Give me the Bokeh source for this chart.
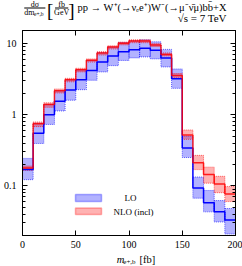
from bokeh.plotting import figure
from bokeh.layouts import column
from bokeh.models import (FixedTicker, CustomJSTickFormatter, LinearAxis, LogAxis,
                          Label, BoxAnnotation)
from bokeh.embed import file_html
from bokeh.resources import INLINE

# ---- data (bins of 10 GeV from 0 to 200) ----
edges = [0, 10, 20, 30, 40, 50, 60, 70, 80, 90, 100, 110, 120, 130, 140, 150, 160, 170, 180, 190, 200]
lo = [0.17, 0.55, 1.0, 1.55, 2.22, 3.1, 4.2, 5.5, 6.7, 7.7, 8.2, 8.6, 8.1, 6.3, 3.2, 0.34, 0.093, 0.058, 0.043, 0.033]
lo_hi = [0.243, 0.76, 1.40, 2.18, 3.1, 4.3, 5.8, 7.5, 9.0, 10.4, 11.0, 11.3, 10.6, 8.3, 4.4, 0.50, 0.133, 0.086, 0.062, 0.048]
lo_lo = [0.122, 0.394, 0.73, 1.13, 1.6, 2.25, 3.05, 4.0, 4.9, 5.8, 6.3, 6.5, 6.1, 4.7, 2.35, 0.25, 0.067, 0.043, 0.031, 0.021]
nlo = [0.178, 0.745, 1.39, 2.18, 3.1, 4.3, 5.85, 7.4, 8.95, 10.1, 10.9, 10.9, 9.6, 7.05, 3.57, 0.52, 0.211, 0.144, 0.106, 0.077]
nlo_hi = [0.19, 0.79, 1.47, 2.3, 3.25, 4.5, 6.1, 7.7, 9.3, 10.5, 11.3, 11.3, 10.0, 7.4, 3.8, 0.61, 0.268, 0.183, 0.136, 0.098]
nlo_lo = [0.165, 0.68, 1.27, 2.02, 2.9, 4.0, 5.5, 6.9, 8.4, 9.6, 10.3, 10.3, 9.1, 6.7, 3.35, 0.45, 0.169, 0.109, 0.080, 0.060]
x_ticks = [0, 50, 100, 150, 200]
y_ticks = [0.1, 1, 10]
y_minor = [0.02, 0.03, 0.04, 0.05, 0.06, 0.07, 0.08, 0.09,
           0.2, 0.3, 0.4, 0.5, 0.6, 0.7, 0.8, 0.9,
           2, 3, 4, 5, 6, 7, 8, 9]

BLUE = "#0000ff"
RED = "#ff0000"
FONT = "Liberation Serif"
W = 242
HEAD_H = 28
MAIN_H = 224
FOOT_H = 14


def text_panel(h):
    f = figure(width=W, height=h, output_backend="svg", toolbar_location=None,
               x_range=(0, W), y_range=(0, h), x_axis_location=None, y_axis_location=None,
               min_border=0)
    f.grid.visible = False
    f.outline_line_color = None
    f.background_fill_color = "white"
    f.border_fill_color = "white"
    return f


def lab(fig, text, x, y, size, align="left", base="middle", style="normal", units="data"):
    fig.add_layout(Label(x=x, y=y, x_units=units, y_units=units, text=text,
                         text_font=FONT, text_font_size=size, text_align=align,
                         text_baseline=base, text_color="black", text_font_style=style))


def bar(fig, x0, x1, y):
    fig.add_layout(BoxAnnotation(left=x0, right=x1, bottom=y - 0.4, top=y + 0.4,
                                 fill_color="black", fill_alpha=1, line_alpha=0))


# ---------------- header: y title and process ----------------
head = text_panel(HEAD_H)
lab(head, "dσ", 14, 24, "8px", align="center")
bar(head, 2, 26, 20.5)
lab(head, "dm", 2, 16.5, "8px")
lab(head, "e+,b", 13, 15, "5.5px")
lab(head, "[", 31.5, 18, "19px", align="center")
lab(head, "fb", 44.5, 24, "8px", align="center")
bar(head, 37, 52, 20.5)
lab(head, "GeV", 44.5, 16.5, "8px", align="center")
lab(head, "]", 55.5, 18, "19px", align="center")
lab(head, "pp → W⁺(→νₑe⁺)W⁻(→μ⁻ν̄μ)bb̄+X", 232, 21.5, "10.5px", align="right")
lab(head, "√s = 7 TeV", 232, 10.5, "11px", align="right")

# ---------------- main plot ----------------
p = figure(width=W, height=MAIN_H, output_backend="svg", toolbar_location=None,
           x_range=(0, 200), y_range=(0.02, 15.3), y_axis_type="log",
           min_border_left=21, min_border_right=7, min_border_top=2, min_border_bottom=17)
p.grid.visible = False
p.outline_line_color = "black"
p.background_fill_color = "white"
p.border_fill_color = "white"

left = edges[:-1]
right = edges[1:]

# uncertainty bands
p.quad(left=left, right=right, bottom=lo_lo, top=lo_hi, fill_color=BLUE, fill_alpha=0.3,
       line_color=BLUE, line_alpha=0.6, line_dash="1 1", line_width=1)
p.quad(left=left, right=right, bottom=nlo_lo, top=nlo_hi, fill_color=RED, fill_alpha=0.3,
       line_color=RED, line_alpha=0.6, line_dash="1 1", line_width=1)
# central values
p.step(x=edges, y=lo + [lo[-1]], mode="after", line_color=BLUE, line_width=1.5)
p.step(x=edges, y=nlo + [nlo[-1]], mode="after", line_color=RED, line_width=1.5, line_alpha=0.85)


def style_axis(ax, size="10px"):
    ax.axis_line_color = "black"
    ax.major_tick_in = 5
    ax.major_tick_out = 0
    ax.minor_tick_in = 3
    ax.minor_tick_out = 0
    ax.major_label_text_font = FONT
    ax.major_label_text_color = "black"
    ax.major_label_text_font_size = size


xt = FixedTicker(ticks=x_ticks, minor_ticks=[])
yt = FixedTicker(ticks=y_ticks, minor_ticks=y_minor)
fmt = CustomJSTickFormatter(code="return tick.toString()")
blank = CustomJSTickFormatter(code="return ''")

p.xaxis.ticker = xt
p.yaxis.ticker = yt
p.yaxis.formatter = fmt
style_axis(p.xaxis[0], "10px")
style_axis(p.yaxis[0], "10px")
p.xaxis.major_label_standoff = 5
p.yaxis.major_label_standoff = 6

ax_top = LinearAxis(ticker=xt, formatter=blank)
style_axis(ax_top, "1px")
ax_top.major_label_standoff = 0
p.add_layout(ax_top, "above")
ax_right = LogAxis(ticker=yt, formatter=blank)
style_axis(ax_right, "1px")
ax_right.major_label_standoff = 0
p.add_layout(ax_right, "right")

# legend (frame-relative screen coords)
p.add_layout(BoxAnnotation(left=53, right=79, bottom=34, top=41,
                           left_units="screen", right_units="screen",
                           bottom_units="screen", top_units="screen",
                           fill_color=BLUE, fill_alpha=0.3, line_color=BLUE, line_width=1.5))
p.add_layout(BoxAnnotation(left=53, right=79, bottom=21, top=27.5,
                           left_units="screen", right_units="screen",
                           bottom_units="screen", top_units="screen",
                           fill_color=RED, fill_alpha=0.3, line_color=RED, line_width=1.5))
lab(p, "LO", 108, 37.5, "9px", align="center", units="screen")
lab(p, "NLO (incl)", 111, 24, "9px", align="center", units="screen")

# ---------------- footer: x title ----------------
foot = text_panel(FOOT_H)
lab(foot, "m", 107, 7, "10.5px", style="italic")
lab(foot, "e+,b", 114.5, 5, "7px")
lab(foot, "[fb]", 133, 7, "10.5px")

layout = column(head, p, foot, spacing=0)
open("out.html", "w").write(file_html(layout, INLINE))
